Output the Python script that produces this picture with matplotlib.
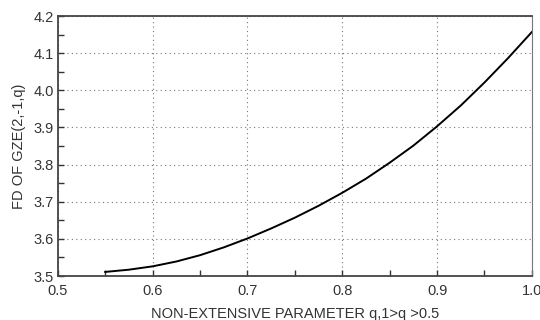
import numpy as np
import matplotlib
matplotlib.use("Agg")
import matplotlib.pyplot as plt
from matplotlib.ticker import MultipleLocator

plt.rcParams['font.family'] = ['Liberation Sans', 'DejaVu Sans']

# values
q_vals  = [0.55, 0.575, 0.60, 0.625, 0.65, 0.675, 0.70, 0.725, 0.75, 0.775,
           0.80, 0.825, 0.85, 0.875, 0.90, 0.925, 0.95, 0.975, 1.00]
fd_vals = [3.511, 3.517, 3.526, 3.539, 3.556, 3.577, 3.601, 3.628, 3.657, 3.689,
           3.724, 3.762, 3.805, 3.851, 3.903, 3.959, 4.021, 4.087, 4.157]

x_ticks = [0.5, 0.6, 0.7, 0.8, 0.9, 1.0]
y_ticks = [3.5, 3.6, 3.7, 3.8, 3.9, 4.0, 4.1, 4.2]

fig = plt.figure(figsize=(5.4, 3.2), dpi=100)
ax = fig.add_axes([0.107, 0.1375, 0.878, 0.8125])

ax.plot(q_vals, fd_vals, color='black', lw=1.4)

ax.set_xlim(0.5, 1.0)
ax.set_ylim(3.5, 4.2)
ax.set_xticks(x_ticks)
ax.set_yticks(y_ticks)
ax.set_xticklabels([f"{t:.1f}" for t in x_ticks])
ax.set_yticklabels([f"{t:.1f}" for t in y_ticks])
ax.xaxis.set_minor_locator(MultipleLocator(0.05))
ax.yaxis.set_minor_locator(MultipleLocator(0.05))
ax.tick_params(which='both', direction='in', top=False, right=False,
               labelsize=10.5, colors='#333333', width=1.0)
ax.tick_params(which='major', length=4)
ax.tick_params(which='minor', length=4)
ax.tick_params(axis='x', pad=6)
ax.tick_params(axis='y', pad=3)

ax.grid(True, which='major', linestyle=(0, (1, 3)), color='#777777', lw=0.8)

for side in ['left', 'bottom', 'top']:
    ax.spines[side].set_linewidth(1.3)
    ax.spines[side].set_color('#444444')
ax.spines['right'].set_linewidth(0.8)
ax.spines['right'].set_color('#777777')

ax.set_xlabel('NON-EXTENSIVE PARAMETER q,1>q >0.5', fontsize=10.5,
              color='#333333', labelpad=6)
ax.set_ylabel('FD OF GZE(2,-1,q)', fontsize=10.5, color='#333333', labelpad=5)

plt.savefig('out.png', dpi=100)
plt.close()
